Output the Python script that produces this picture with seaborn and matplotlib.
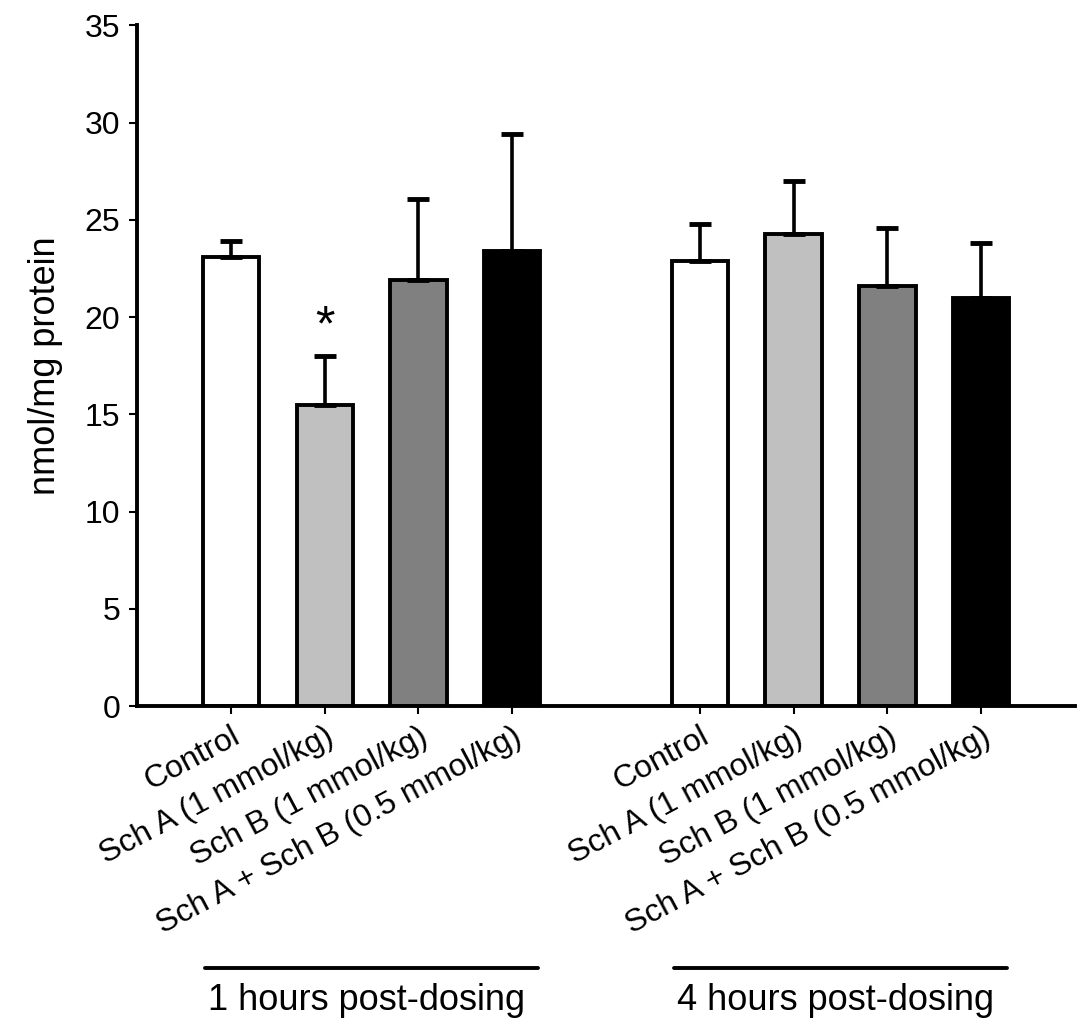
import matplotlib; matplotlib.use('Agg')
import pandas as pd
import numpy as np
import matplotlib.pyplot as plt
import matplotlib.transforms as mtransforms
import seaborn as sns

# Data
groups = ['1 hours post-dosing', '4 hours post-dosing']
treatments = ['Control', 'Sch A (1 mmol/kg)', 'Sch B (1 mmol/kg)', 'Sch A + Sch B (0.5 mmol/kg)']
means_1h = [23.1, 15.5, 21.9, 23.4]
sds_1h = [0.8, 2.5, 4.2, 6.0]
means_4h = [22.9, 24.3, 21.6, 21.0]
sds_4h = [1.9, 2.7, 3.0, 2.8]
bar_colors = ['#ffffff', '#c0c0c0', '#808080', '#000000']

rows = []
for g, means, sds in [(groups[0], means_1h, sds_1h), (groups[1], means_4h, sds_4h)]:
    for t, m, s, c in zip(treatments, means, sds, bar_colors):
        rows.append({'key': g + '|' + t, 'group': g, 'treatment': t, 'mean': m, 'sd': s, 'color': c})
df = pd.DataFrame(rows)

# gap slot between the two groups
order = list(df['key'][:4]) + ['gap'] + list(df['key'][4:])
palette = dict(zip(df['key'], df['color']))

sns.set_style('white')
plt.rcParams['font.family'] = ['Liberation Sans', 'DejaVu Sans']
plt.rcParams.update({'text.color': 'black', 'axes.labelcolor': 'black',
                     'xtick.color': 'black', 'ytick.color': 'black'})

fig = plt.figure(figsize=(10.88, 10.19), dpi=100)
ax = fig.add_axes([0.126, 0.307, 0.862, 0.668])

sns.barplot(data=df, x='key', y='mean', hue='key', order=order, palette=palette,
            width=0.6, edgecolor='black', linewidth=2.8, legend=False, ax=ax, errorbar=None)

pos = [order.index(k) for k in df['key']]
ax.errorbar(pos, df['mean'], yerr=[np.zeros(len(df)), df['sd']], fmt='none',
            ecolor='black', elinewidth=2.6, capsize=8, capthick=3.5, zorder=1)

# significance mark
i_sig = 1
ax.text(pos[i_sig], df['mean'][i_sig] + df['sd'][i_sig] + 0.3, '*', ha='center', va='bottom',
        fontsize=36)

ax.set_xlim(-1, 9)
ax.set_ylim(0, 35)
ax.set_yticks(np.arange(0, 36, 5))
ax.set_xticks(pos)
ax.set_xticklabels(df['treatment'], rotation=28, ha='right', va='top', rotation_mode='anchor')
ax.set_xlabel('')
ax.set_ylabel('nmol/mg protein', fontsize=26, labelpad=16)
ax.tick_params(axis='y', labelsize=23, direction='out', length=6, width=1.5, left=True, pad=6)
ax.tick_params(axis='x', labelsize=23, direction='out', length=6, width=1.5, bottom=True, pad=5)

sns.despine(ax=ax)
for sp in ['left', 'bottom']:
    ax.spines[sp].set_linewidth(2.8)
    ax.spines[sp].set_color('black')

# group labels below
trans = mtransforms.blended_transform_factory(ax.transData, fig.transFigure)
for gi, g in enumerate(groups):
    gpos = [p for p, gg in zip(pos, df['group']) if gg == g]
    center = np.mean(gpos)
    ax.plot([center - 1.78, center + 1.78], [0.05, 0.05], color='black', lw=2.8,
            transform=trans, clip_on=False)
    ax.text(center - 0.05, 0.018, g, ha='center', va='center', fontsize=26, transform=trans)

fig.savefig('out.png', dpi=100)
